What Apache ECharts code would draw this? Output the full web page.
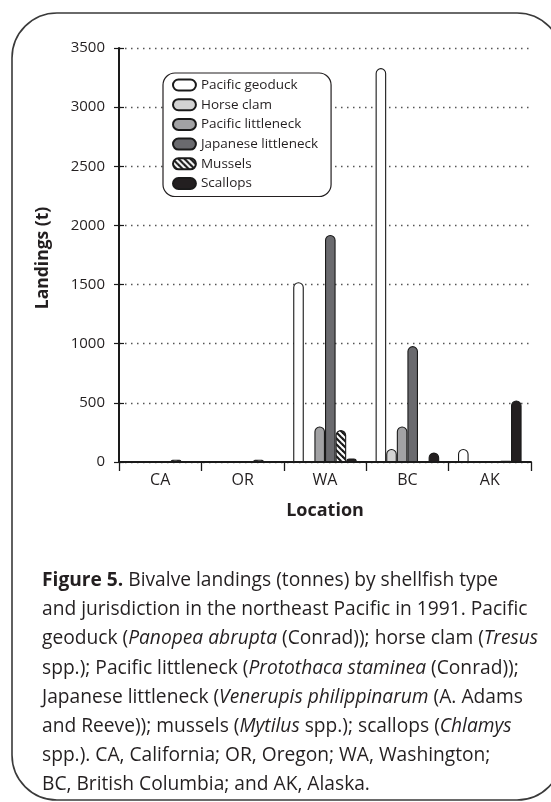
<!DOCTYPE html>
<html>
<head>
<meta charset="utf-8">
<script src="https://cdn.jsdelivr.net/npm/echarts@6/dist/echarts.min.js"></script>
<style>
html,body{margin:0;padding:0;background:#fff;}
#chart{width:551px;height:802px;}
</style>
</head>
<body>
<div id="chart"></div>
<script>
// ---- data ----
const locations = ['CA', 'OR', 'WA', 'BC', 'AK'];
const seriesNames = ['Pacific geoduck', 'Horse clam', 'Pacific littleneck', 'Japanese littleneck', 'Mussels', 'Scallops'];
const geoduck = [0, 0, 1520, 3330, 110];
const horseClam = [0, 5, 0, 110, 0];
const pacificLittleneck = [0, 5, 300, 300, 0];
const japaneseLittleneck = [0, 0, 1920, 980, 0];
const mussels = [20, 20, 270, 0, 10];
const scallops = [0, 0, 30, 80, 520];
const yTicks = [0, 500, 1000, 1500, 2000, 2500, 3000, 3500];

const captionLines = [
  '{b|Figure 5.} Bivalve landings (tonnes) by shellfish type',
  'and jurisdiction in the northeast Pacific in 1991. Pacific',
  'geoduck ({i|Panopea abrupta} (Conrad)); horse clam ({i|Tresus}',
  'spp.); Pacific littleneck ({i|Protothaca staminea} (Conrad));',
  'Japanese littleneck ({i|Venerupis philippinarum} (A. Adams',
  'and Reeve)); mussels ({i|Mytilus} spp.); scallops ({i|Chlamys}',
  'spp.). CA, California; OR, Oregon; WA, Washington;',
  'BC, British Columbia; and AK, Alaska.'
];

// ---- hatch pattern for mussels ----
const pc = document.createElement('canvas');
pc.width = 6; pc.height = 6;
const pctx = pc.getContext('2d');
pctx.fillStyle = '#ffffff';
pctx.fillRect(0, 0, 6, 6);
pctx.strokeStyle = '#1a1a1a';
pctx.lineWidth = 2.2;
[-6, 0, 6].forEach(function (o) {
  pctx.beginPath();
  pctx.moveTo(o - 1, -1);
  pctx.lineTo(o + 7, 7);
  pctx.stroke();
});

const colors = ['#ffffff', '#d3d3d3', '#a2a2a4', '#6a6a6e', {image: pc, repeat: 'repeat'}, '#231f20'];
const values = [geoduck, horseClam, pacificLittleneck, japaneseLittleneck, mussels, scallops];

const FONT = '"Open Sans", "Noto Sans", sans-serif';
const TXT = '#231f20';
const CAP = 19.2;

const chart = echarts.init(document.getElementById('chart'), null, {renderer: 'canvas'});

const series = seriesNames.map(function (n, i) {
  return {
    name: n,
    type: 'bar',
    data: values[i],
    barWidth: 10.6,
    barGap: '0%',
    itemStyle: {
      color: colors[i],
      borderColor: '#1a1a1a',
      borderWidth: 1.1,
      borderRadius: [5.3, 5.3, 0, 0]
    },
    emphasis: {disabled: true}
  };
});

const pill = 'path://M6,0 L19,0 A6,6 0 0 1 19,12 L6,12 A6,6 0 0 1 6,0 Z';

chart.setOption({
  animation: false,
  backgroundColor: '#ffffff',
  textStyle: {fontFamily: FONT, color: TXT},
  grid: {left: 119, right: 20, top: 48, bottom: 340, containLabel: false},
  legend: {
    orient: 'vertical',
    left: 163,
    top: 73,
    icon: pill,
    itemWidth: 25,
    itemHeight: 11,
    itemGap: 5.7,
    padding: [5, 13, 6, 9],
    backgroundColor: '#ffffff',
    borderColor: '#231f20',
    borderWidth: 1.2,
    borderRadius: 12,
    textStyle: {fontFamily: FONT, fontSize: 13.5, lineHeight: 14, color: TXT, padding: [0, 0, 0, -1]},
    data: seriesNames,
    selectedMode: false
  },
  xAxis: {
    type: 'category',
    data: locations,
    axisLine: {show: true, lineStyle: {color: '#1a1a1a', width: 2}},
    axisTick: {show: true, length: 9, lineStyle: {color: '#1a1a1a', width: 1.3}},
    axisLabel: {fontFamily: FONT, fontSize: 16, color: TXT, margin: 10},
    name: 'Location',
    nameLocation: 'middle',
    nameGap: 40,
    nameTextStyle: {fontFamily: FONT, fontSize: 18, fontWeight: 'bold', color: TXT}
  },
  yAxis: [{
    type: 'value',
    min: 0,
    max: 3500,
    interval: 500,
    axisLine: {show: true, lineStyle: {color: '#1a1a1a', width: 2}},
    axisTick: {show: true, length: 5, lineStyle: {color: '#1a1a1a', width: 1.2}},
    axisLabel: {fontFamily: FONT, fontSize: 15, color: TXT, margin: 14,
      formatter: function (v) { return yTicks.indexOf(v) >= 0 ? String(v) : ''; }},
    splitLine: {show: true, lineStyle: {color: '#555555', width: 1.3, type: [1.5, 4.5]}}
  }, {
    type: 'value',
    min: 0,
    max: 3500,
    interval: 500,
    position: 'left',
    axisLine: {show: false},
    axisTick: {show: true, inside: true, length: 5, lineStyle: {color: '#1a1a1a', width: 1.2}},
    axisLabel: {show: false},
    splitLine: {show: false}
  }],
  graphic: [
    {
      type: 'rect',
      z: -1,
      shape: {x: 12, y: 13, width: 550, height: 787, r: 45},
      style: {fill: 'none', stroke: '#3a3a3a', lineWidth: 1.6}
    },
    {
      type: 'text',
      x: 43,
      y: 258,
      rotation: Math.PI / 2,
      style: {
        text: 'Landings (t)',
        font: 'bold 17.5px ' + FONT,
        fill: TXT,
        align: 'center',
        verticalAlign: 'middle'
      }
    },
    {
      type: 'text',
      x: 42,
      y: 566,
      style: {
        text: captionLines.join('\n'),
        font: CAP + 'px ' + FONT,
        fill: TXT,
        lineHeight: 29.2,
        rich: {
          b: {fontWeight: 'bold', fontSize: CAP, fontFamily: FONT, fill: TXT, lineHeight: 29.2},
          i: {fontStyle: 'italic', fontSize: CAP, fontFamily: FONT, fill: TXT, lineHeight: 29.2}
        }
      }
    }
  ],
  series: series
});
</script>
</body>
</html>
